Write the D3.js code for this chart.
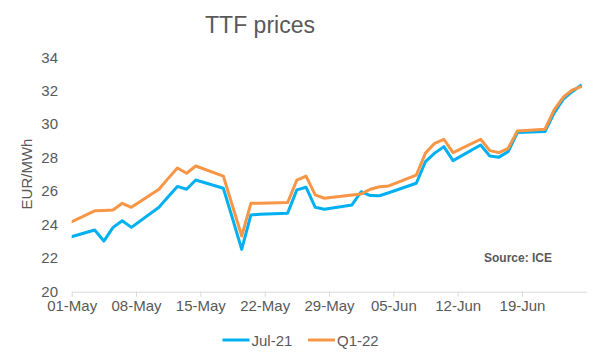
<!DOCTYPE html>
<html>
<head>
<meta charset="utf-8">
<script src="https://cdn.jsdelivr.net/npm/d3@7"></script>
<style>
  html, body { margin: 0; padding: 0; background: #fff; }
  svg { display: block; font-family: "Liberation Sans", Arial, sans-serif; }
</style>
</head>
<body>
<svg id="chart" width="600" height="361"></svg>
<script>
// ---- data ----
const dates = ["2021-04-30","2021-05-03","2021-05-04","2021-05-05","2021-05-06","2021-05-07",
  "2021-05-10","2021-05-11","2021-05-12","2021-05-13","2021-05-14",
  "2021-05-17","2021-05-18","2021-05-19","2021-05-20","2021-05-21",
  "2021-05-24","2021-05-25","2021-05-26","2021-05-27","2021-05-28",
  "2021-05-31","2021-06-01","2021-06-02","2021-06-03","2021-06-04",
  "2021-06-07","2021-06-08","2021-06-09","2021-06-10","2021-06-11",
  "2021-06-14","2021-06-15","2021-06-16","2021-06-17","2021-06-18",
  "2021-06-21","2021-06-22","2021-06-23","2021-06-24","2021-06-25"];
const jul21 = [23.18,23.66,23.00,23.82,24.21,23.82,
  25.02,25.65,26.27,26.10,26.65,
  26.16,24.35,22.50,24.56,24.60,
  24.67,26.06,26.22,25.02,24.90,
  25.16,25.95,25.72,25.71,25.89,
  26.46,27.75,28.26,28.65,27.81,
  28.75,28.09,28.02,28.35,29.49,
  29.55,30.65,31.49,31.95,32.35];
const q122 = [24.02,24.81,24.83,24.86,25.26,25.02,
  26.10,26.75,27.37,27.06,27.49,
  26.89,25.10,23.30,25.26,25.26,
  25.30,26.65,26.89,25.76,25.56,
  25.75,25.82,26.10,26.25,26.30,
  26.95,28.26,28.85,29.09,28.29,
  29.09,28.41,28.29,28.55,29.59,
  29.69,30.85,31.61,32.05,32.25];
const seriesNames = ["Jul-21", "Q1-22"];
const xTickDates = ["2021-05-01","2021-05-08","2021-05-15","2021-05-22","2021-05-29","2021-06-05","2021-06-12","2021-06-19"];
const yTicks = [20, 22, 24, 26, 28, 30, 32, 34];
const xDomain = ["2021-05-01", "2021-06-26"];

// ---- styles ----
const colors = ["#00B0F0", "#F79646"];
const textColor = "#595959";

const parse = d3.utcParse("%Y-%m-%d");
const svg = d3.select("#chart");

const x = d3.scaleUtc().domain(xDomain.map(parse)).range([71.7, 586.3]);
const y = d3.scaleLinear().domain([20, 34]).range([291.2, 57.2]);

// title
svg.append("text").attr("x", 260).attr("y", 33)
  .attr("text-anchor", "middle").attr("font-size", 23).attr("fill", textColor)
  .text("TTF prices");

// y axis
const yAxis = svg.append("g").attr("transform", "translate(58,0)")
  .call(d3.axisLeft(y).tickValues(yTicks).tickSize(0).tickPadding(0).tickFormat(d3.format("d")));
yAxis.select(".domain").remove();
yAxis.selectAll("text").attr("font-size", 15).attr("fill", textColor)
  .attr("font-family", "Liberation Sans, Arial, sans-serif");

// y title
svg.append("text").attr("transform", "translate(32,174) rotate(-90)")
  .attr("text-anchor", "middle").attr("font-size", 15).attr("fill", textColor)
  .text("EUR/MWh");

// x axis
const xAxis = svg.append("g").attr("transform", "translate(0,291.7)")
  .call(d3.axisBottom(x).tickValues(xTickDates.map(parse)).tickSize(5).tickSizeOuter(0)
    .tickPadding(4).tickFormat(d3.utcFormat("%d-%b")));
xAxis.select(".domain").attr("stroke", "#d9d9d9");
xAxis.selectAll(".tick line").attr("stroke", "#d9d9d9");
xAxis.selectAll("text").attr("font-size", 15).attr("fill", textColor)
  .attr("font-family", "Liberation Sans, Arial, sans-serif");

// clip
svg.append("clipPath").attr("id", "plotclip").append("rect")
  .attr("x", x.range()[0]).attr("y", 0)
  .attr("width", x.range()[1] - x.range()[0] + 5).attr("height", 300);

const half = 12 * 3600 * 1000;
const line = d3.line()
  .x(d => x(new Date(parse(d.date).getTime() + half)))
  .y(d => y(d.v));

[jul21, q122].forEach((vals, i) => {
  const pts = dates.map((d, j) => ({ date: d, v: vals[j] }));
  svg.append("path").datum(pts)
    .attr("clip-path", "url(#plotclip)")
    .attr("fill", "none").attr("stroke", colors[i]).attr("stroke-width", 3)
    .attr("stroke-linejoin", "round")
    .attr("d", line);
});

// source note
svg.append("text").attr("x", 518).attr("y", 262)
  .attr("text-anchor", "middle").attr("font-size", 12).attr("font-weight", "bold")
  .attr("fill", textColor).text("Source: ICE");

// legend
const legendX = [222.5, 308];
seriesNames.forEach((name, i) => {
  const g = svg.append("g").attr("transform", `translate(${legendX[i]},340)`);
  g.append("line").attr("x1", 0).attr("x2", 27).attr("y1", 0).attr("y2", 0)
    .attr("stroke", colors[i]).attr("stroke-width", 3);
  g.append("text").attr("x", 29).attr("y", 5.5).attr("font-size", 15)
    .attr("fill", textColor).text(name);
});
</script>
</body>
</html>
